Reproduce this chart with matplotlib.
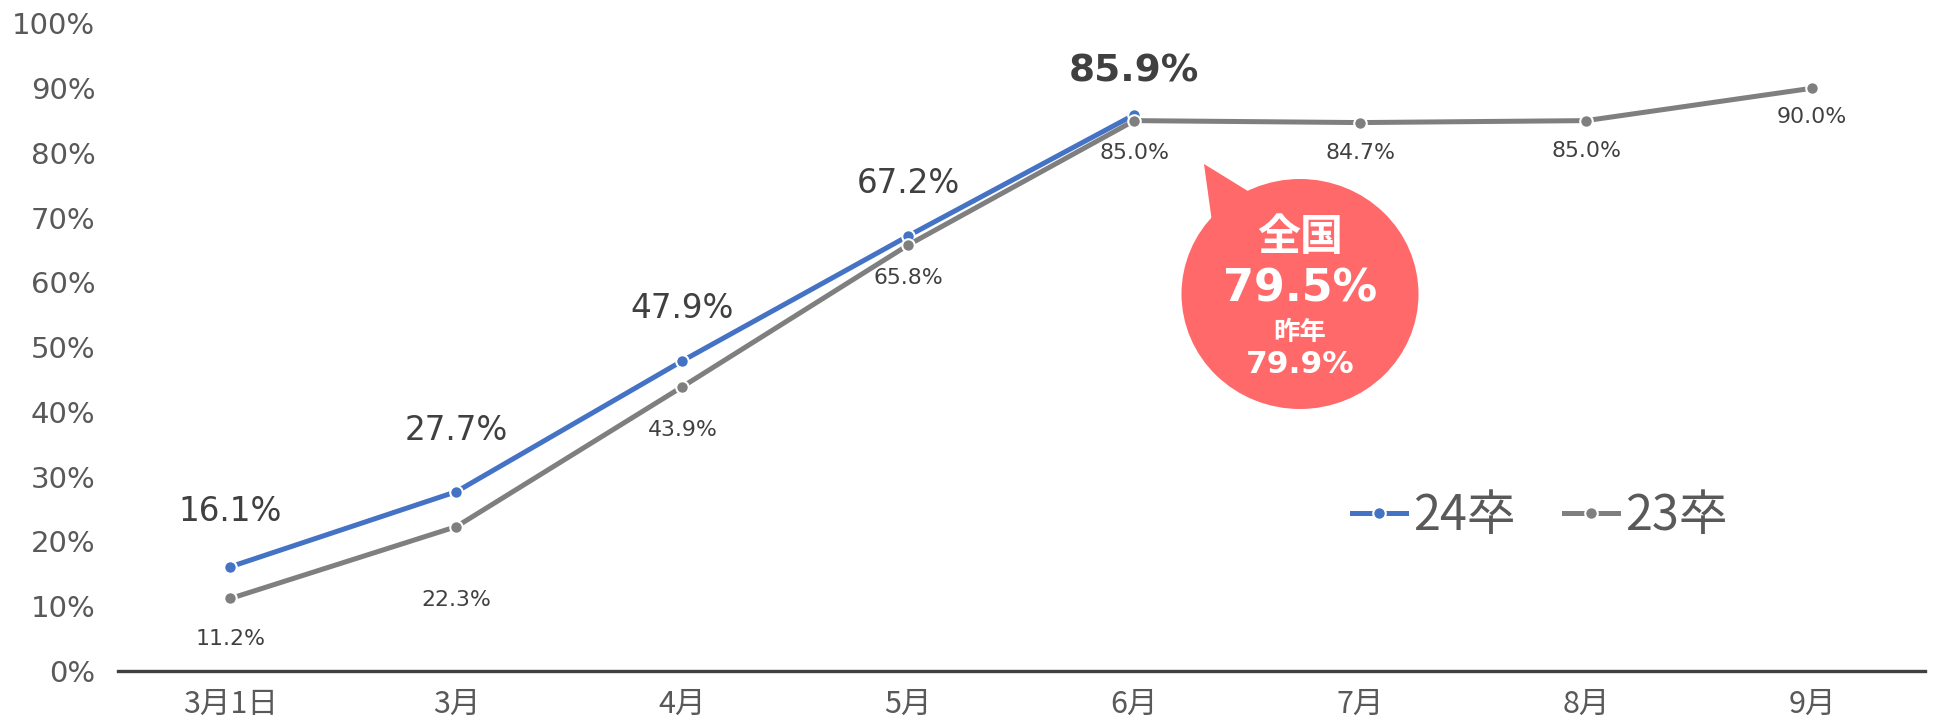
import matplotlib
matplotlib.use("Agg")
import matplotlib.pyplot as plt
from matplotlib.lines import Line2D
from matplotlib.patches import Ellipse, Polygon
from matplotlib.ticker import PercentFormatter

JP = ['Noto Sans CJK JP', 'DejaVu Sans']
LATIN = ['DejaVu Sans', 'Noto Sans CJK JP']
plt.rcParams['font.family'] = JP

# Data
categories = ["3月1日", "3月", "4月", "5月", "6月", "7月", "8月", "9月"]
rate_24 = [16.1, 27.7, 47.9, 67.2, 85.9]
rate_23 = [11.2, 22.3, 43.9, 65.8, 85.0, 84.7, 85.0, 90.0]
series_names = ["24卒", "23卒"]
national_now = 79.5
national_prev = 79.9

BLUE = "#4472C4"
GRAY = "#7F7F7F"
TEXT = "#404040"
TICK = "#595959"
BUBBLE = "#FF6969"

W, H = 1939, 724
fig = plt.figure(figsize=(W / 100, H / 100), dpi=100)
ax = fig.add_axes([117.5 / W, 53 / H, (1925 - 117.5) / W, (671 - 23.5) / H])

x24 = list(range(len(rate_24)))
x23 = list(range(len(rate_23)))

ax.plot(x23, rate_23, color=GRAY, lw=3.6, marker='o', ms=9,
        mfc=GRAY, mec='white', mew=1.5, solid_capstyle='round', zorder=3)
ax.plot(x24, rate_24, color=BLUE, lw=3.6, marker='o', ms=9,
        mfc=BLUE, mec='white', mew=1.5, solid_capstyle='round', zorder=2)

# value labels: 24卒 above the points, 23卒 below
off_24 = [40, 44, 38, 38, 31]
for i, v in enumerate(rate_24):
    last = i == len(rate_24) - 1
    ax.annotate(f"{v:.1f}%", (x24[i], v), xytext=(0, off_24[i]),
                textcoords='offset points', ha='center', va='center',
                fontsize=27 if last else 23.5, color=TEXT, family=LATIN,
                fontweight='bold' if last else 'normal')

off_23 = [-29, -53, -31, -24, -23, -22, -22, -21]
for i, v in enumerate(rate_23):
    ax.annotate(f"{v:.1f}%", (x23[i], v), xytext=(0, off_23[i]),
                textcoords='offset points', ha='center', va='center',
                fontsize=15.8, color=TEXT, family=LATIN)

ax.set_xlim(-0.5, len(categories) - 0.5)
ax.set_ylim(0, 100)
ax.set_yticks(range(0, 101, 10))
ax.yaxis.set_major_formatter(PercentFormatter(decimals=0))
ax.set_xticks(x23)
ax.set_xticklabels(categories)
ax.tick_params(axis='y', length=0, pad=16, labelsize=21, labelcolor=TICK)
ax.tick_params(axis='x', length=0, pad=13, labelsize=22, labelcolor=TICK)
for lbl in ax.get_yticklabels():
    lbl.set_family(LATIN)
for s in ['top', 'right', 'left']:
    ax.spines[s].set_visible(False)
ax.spines['bottom'].set_color(TEXT)
ax.spines['bottom'].set_linewidth(2.4)
ax.spines['bottom'].set_zorder(5)

handles = [
    Line2D([], [], color=BLUE, lw=3.6, marker='o', ms=9, mfc=BLUE, mec='white', mew=1.5),
    Line2D([], [], color=GRAY, lw=3.6, marker='o', ms=9, mfc=GRAY, mec='white', mew=1.5),
]
leg = ax.legend(handles, series_names, loc='center',
                bbox_to_anchor=(1540 / W, 1 - 516 / H), bbox_transform=fig.transFigure,
                ncol=2, frameon=False, fontsize=35, handlelength=1.1,
                handletextpad=0.15, columnspacing=1.0, labelcolor=TICK)

# speech bubble with national figures
ft = fig.transFigure
def fx(px):
    return px / W
def fy(py):
    return 1 - py / H

bubble = Ellipse((fx(1300), fy(294)), 237 / W, 230 / H, transform=ft,
                 facecolor=BUBBLE, edgecolor='none', zorder=10)
tail = Polygon([(fx(1204), fy(164)), (fx(1256), fy(196)), (fx(1212), fy(222))],
               closed=True, transform=ft, facecolor=BUBBLE, edgecolor='none', zorder=10)
fig.patches.extend([bubble, tail])

fig.text(fx(1300), fy(237), "全国", transform=ft, ha='center', va='center',
         fontsize=31, fontweight='bold', color='white', zorder=11)
fig.text(fx(1300), fy(289), f"{national_now:.1f}%", transform=ft, ha='center', va='center',
         fontsize=32, fontweight='bold', color='white', zorder=11, family=LATIN)
fig.text(fx(1300), fy(332), "昨年", transform=ft, ha='center', va='center',
         fontsize=19, fontweight='bold', color='white', zorder=11)
fig.text(fx(1300), fy(364), f"{national_prev:.1f}%", transform=ft, ha='center', va='center',
         fontsize=22.5, fontweight='bold', color='white', zorder=11, family=LATIN)

fig.savefig("out.png", dpi=100, facecolor='white')
